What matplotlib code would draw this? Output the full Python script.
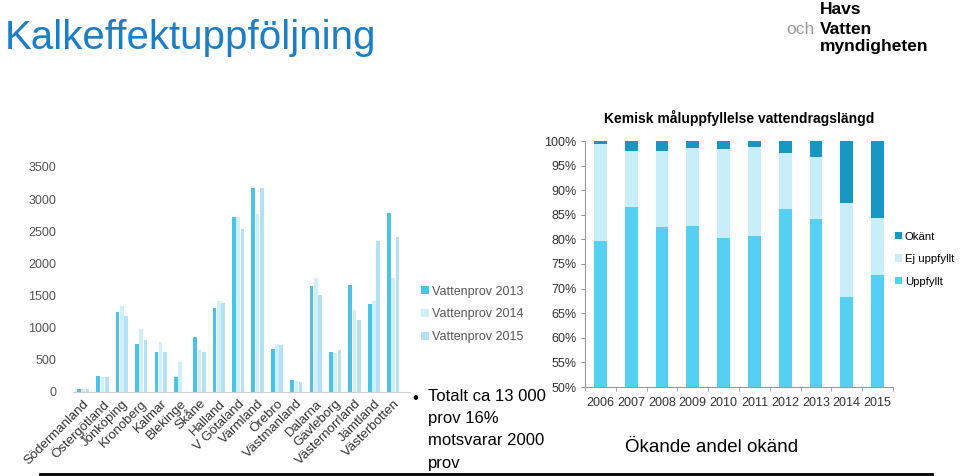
import matplotlib.pyplot as plt
import numpy as np

plt.rcParams['font.family'] = ['Liberation Sans', 'DejaVu Sans']

# left chart: samples per county
lan = ["Södermanland", "Östergötland", "Jönköping", "Kronoberg", "Kalmar",
       "Blekinge", "Skåne", "Halland", "V Götaland", "Värmland", "Örebro",
       "Västmanland", "Dalarna", "Gävleborg", "Västernorrland", "Jämtland",
       "Västerbotten"]
prov_2013 = [50, 245, 1240, 750, 615, 235, 850, 1300, 2720, 3170, 670,
             190, 1645, 620, 1660, 1375, 2790]
prov_2014 = [40, 230, 1345, 985, 775, 470, 660, 1420, 2720, 2770, 750,
             175, 1775, 607, 1270, 1420, 1770]
prov_2015 = [45, 230, 1180, 815, 630, 0, 625, 1380, 2540, 3180, 725,
             155, 1505, 650, 1125, 2355, 2415]

# right chart: share of stream length
years = ["2006", "2007", "2008", "2009", "2010", "2011", "2012", "2013", "2014", "2015"]
uppfyllt = [79.6, 86.6, 82.6, 82.8, 80.3, 80.7, 86.2, 84.1, 68.3, 72.7]
ej_uppfyllt = [19.8, 11.4, 15.4, 15.8, 18.1, 18.1, 11.3, 12.6, 19.2, 11.6]
okant = [0.6, 2.0, 2.0, 1.4, 1.6, 1.2, 2.5, 3.3, 12.5, 15.7]

W, H = 960, 476
fig = plt.figure(figsize=(W / 100, H / 100), dpi=100)


def box(x0, y0, x1, y1):
    return [x0 / W, 1 - y1 / H, (x1 - x0) / W, (y1 - y0) / H]


fig.text(5 / W, 1 - 38 / H, "Kalkeffektuppföljning", fontsize=29,
         color="#1a7fc6", va="center", ha="left")

# logo
fig.text(820 / W, 1 - 10 / H, "Havs", fontsize=12.5, fontweight="bold", va="center")
fig.text(786 / W, 1 - 29 / H, "och", fontsize=12.5, color="#999999", va="center")
fig.text(820 / W, 1 - 29 / H, "Vatten", fontsize=12.5, fontweight="bold", va="center")
fig.text(820 / W, 1 - 47 / H, "myndigheten", fontsize=12.5, fontweight="bold", va="center")

# ---- left chart ----
ax1 = fig.add_axes(box(73, 167, 410, 392))
x = np.arange(len(lan))
c13, c14, c15 = "#4cc2e6", "#cdf0fb", "#b4e1f3"
w = 0.19
ax1.bar(x - 0.22, prov_2013, w, color=c13, label="Vattenprov 2013")
ax1.bar(x, prov_2014, w, color=c14, label="Vattenprov 2014")
ax1.bar(x + 0.22, prov_2015, w, color=c15, label="Vattenprov 2015")
ax1.set_xlim(-0.52, 16.86)
ax1.set_ylim(0, 3500)
ax1.set_yticks(range(0, 3501, 500))
ax1.tick_params(axis="y", length=0, labelsize=9, labelcolor="#555555", pad=12)
ax1.set_xticks(x)
ax1.set_xticklabels(lan, rotation=45, ha="right", rotation_mode="anchor",
                    fontsize=9.5, color="#333333")
ax1.tick_params(axis="x", length=0, pad=4)
for s in ["top", "right", "left"]:
    ax1.spines[s].set_visible(False)
ax1.spines["bottom"].set_color("#d0d0d0")
ax1.legend(loc="center left", bbox_to_anchor=(1.0, 0.345), frameon=False,
           fontsize=9, labelcolor="#555555", handlelength=0.6, handleheight=0.6,
           handletextpad=0.3, labelspacing=0.85)

fig.text(412 / W, 1 - 398 / H, "•", fontsize=12, va="center")
fig.text(428 / W, 1 - 389 / H, "Totalt ca 13 000\nprov 16%\nmotsvarar 2000\nprov",
         fontsize=12, va="top", linespacing=1.6)

# ---- right chart ----
ax2 = fig.add_axes(box(585, 141, 893, 387))
xr = np.arange(len(years))
cu, ce, co = "#55cff2", "#c8eefa", "#1798c2"
bw = 0.42
ax2.bar(xr, uppfyllt, bw, color=cu, label="Uppfyllt")
ax2.bar(xr, ej_uppfyllt, bw, bottom=uppfyllt, color=ce, label="Ej uppfyllt")
ax2.bar(xr, okant, bw, bottom=np.add(uppfyllt, ej_uppfyllt), color=co, label="Okänt")
ax2.set_xlim(-0.5, 9.5)
ax2.set_ylim(50, 100)
ax2.set_yticks(range(50, 101, 5))
ax2.set_yticklabels([f"{v}%" for v in range(50, 101, 5)])
ax2.tick_params(axis="y", labelsize=9, labelcolor="#333333", length=3,
                color="#999999", pad=3)
ax2.set_xticks(xr)
ax2.set_xticklabels(years, fontsize=9, color="#333333")
ax2.set_xticks(np.arange(-0.5, 10, 1), minor=True)
ax2.tick_params(axis="x", which="major", length=0, pad=7)
ax2.tick_params(axis="x", which="minor", length=3, color="#999999")
for s in ["top", "right"]:
    ax2.spines[s].set_visible(False)
ax2.spines["left"].set_color("#999999")
ax2.spines["bottom"].set_color("#999999")
h, l = ax2.get_legend_handles_labels()
ax2.legend(h[::-1], l[::-1], loc="center left", bbox_to_anchor=(1.0, 0.52),
           frameon=False, fontsize=8.2, handlelength=0.6, handleheight=0.6,
           handletextpad=0.25, labelspacing=1.1, borderaxespad=0.0,
           borderpad=0.2)
ax2.set_title("Kemisk måluppfyllelse vattendragslängd", fontsize=10,
              fontweight="bold", pad=13)

fig.text(625 / W, 1 - 447 / H, "Ökande andel okänd", fontsize=13.5, va="center")

fig.add_artist(plt.Line2D([40 / W, 932 / W], [1 - 474 / H, 1 - 474 / H],
                          color="black", lw=2))

fig.savefig("out.png", dpi=100)
